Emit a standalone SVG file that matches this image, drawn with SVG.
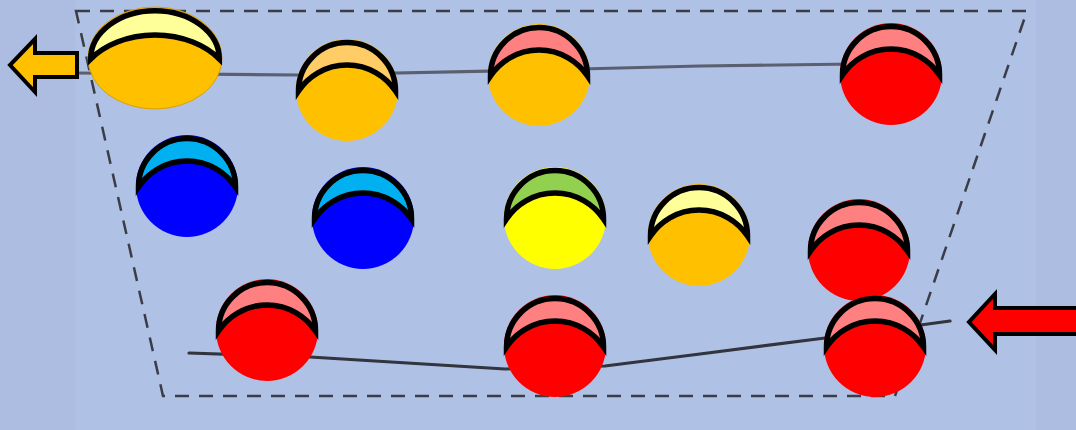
<svg xmlns="http://www.w3.org/2000/svg" width="1076" height="430" viewBox="0 0 1076 430">
<style>
.cap{stroke:#000;stroke-width:5.5;stroke-linejoin:miter;stroke-miterlimit:10}
.arrow{stroke:#000;stroke-width:4;stroke-linejoin:miter}
.dash{fill:none;stroke:#3a3d45;stroke-width:2.5;stroke-dasharray:14 10}
.line{fill:none;stroke-width:3.2;stroke-linecap:round;stroke-linejoin:round}
</style>
<defs>
<filter id="soft" x="-5%" y="-50%" width="110%" height="200%"><feGaussianBlur stdDeviation="0.7"/></filter>
</defs>
<rect x="0" y="0" width="1076" height="430" fill="#adbde2"/>
<rect x="75" y="0" width="961" height="430" fill="#b0c1e6"/>
<g id="connectors">
<path class="dash" d="M76 11 L1027 11 L895 396 L163 396 Z"/>
<path class="line" filter="url(#soft)" stroke="#5a6070" d="M76 73 L300 75 L540 70 L700 66 L856 64"/>
<path class="line" filter="url(#soft)" stroke="#30343e" d="M189 353 L310 357 L505 369 L605 366 L700 354 L825 338 L950 321"/>
</g>
<g id="arrow-out">
<path class="arrow" fill="#ffc000" d="M77 53 L35 53 L35 39 L10 65 L35 92 L35 77 L77 77 Z"/>
</g>
<g id="arrow-in">
<path class="arrow" fill="#ff0000" d="M1080 308 L995 308 L995 294 L969 322 L995 350 L995 334 L1080 334 Z"/>
</g>
<g id="ball1">
<ellipse cx="155" cy="58" rx="67" ry="51" fill="#ffc000" stroke="#d9a000" stroke-width="1"/>
<path class="cap" fill="#ffff99" d="M90.7 59 A64.3 48.3 0 1 1 219.3 59 A80.7 60.6 0 0 0 90.7 59 Z"/>
</g>
<g id="ball2">
<circle cx="347" cy="90" r="51" fill="#ffc000"/>
<path class="cap" fill="#ffcc66" d="M298.5 91 A48.5 48.5 0 1 1 395.5 91 A58.2 58.2 0 0 0 298.5 91 Z"/>
</g>
<g id="ball3">
<circle cx="539" cy="75" r="51" fill="#ffc000"/>
<path class="cap" fill="#ff8080" d="M490.5 76 A48.5 48.5 0 1 1 587.5 76 A58.2 58.2 0 0 0 490.5 76 Z"/>
</g>
<g id="ball4">
<circle cx="891" cy="74" r="51" fill="#ff0000"/>
<path class="cap" fill="#ff8080" d="M842.5 75 A48.5 48.5 0 1 1 939.5 75 A58.2 58.2 0 0 0 842.5 75 Z"/>
</g>
<g id="ball5">
<circle cx="187" cy="186" r="51" fill="#0000ff"/>
<path class="cap" fill="#00b0f0" d="M138.5 187 A48.5 48.5 0 1 1 235.5 187 A58.2 58.2 0 0 0 138.5 187 Z"/>
</g>
<g id="ball6">
<circle cx="363" cy="218" r="51" fill="#0000ff"/>
<path class="cap" fill="#00b0f0" d="M314.5 219 A48.5 48.5 0 1 1 411.5 219 A58.2 58.2 0 0 0 314.5 219 Z"/>
</g>
<g id="ball7">
<circle cx="555" cy="218" r="51" fill="#ffff00"/>
<path class="cap" fill="#92d050" d="M506.5 219 A48.5 48.5 0 1 1 603.5 219 A58.2 58.2 0 0 0 506.5 219 Z"/>
</g>
<g id="ball8">
<circle cx="699" cy="235" r="51" fill="#ffc000"/>
<path class="cap" fill="#ffff99" d="M650.5 236 A48.5 48.5 0 1 1 747.5 236 A58.2 58.2 0 0 0 650.5 236 Z"/>
</g>
<g id="ball9">
<circle cx="859" cy="250" r="51" fill="#ff0000"/>
<path class="cap" fill="#ff8080" d="M810.5 251 A48.5 48.5 0 1 1 907.5 251 A58.2 58.2 0 0 0 810.5 251 Z"/>
</g>
<g id="ball10">
<circle cx="267" cy="330" r="51" fill="#ff0000"/>
<path class="cap" fill="#ff8080" d="M218.5 331 A48.5 48.5 0 1 1 315.5 331 A58.2 58.2 0 0 0 218.5 331 Z"/>
</g>
<g id="ball11">
<circle cx="555" cy="346" r="51" fill="#ff0000"/>
<path class="cap" fill="#ff8080" d="M506.5 347 A48.5 48.5 0 1 1 603.5 347 A58.2 58.2 0 0 0 506.5 347 Z"/>
</g>
<g id="ball12">
<circle cx="875" cy="346" r="51" fill="#ff0000"/>
<path class="cap" fill="#ff8080" d="M826.5 347 A48.5 48.5 0 1 1 923.5 347 A58.2 58.2 0 0 0 826.5 347 Z"/>
</g>
</svg>
